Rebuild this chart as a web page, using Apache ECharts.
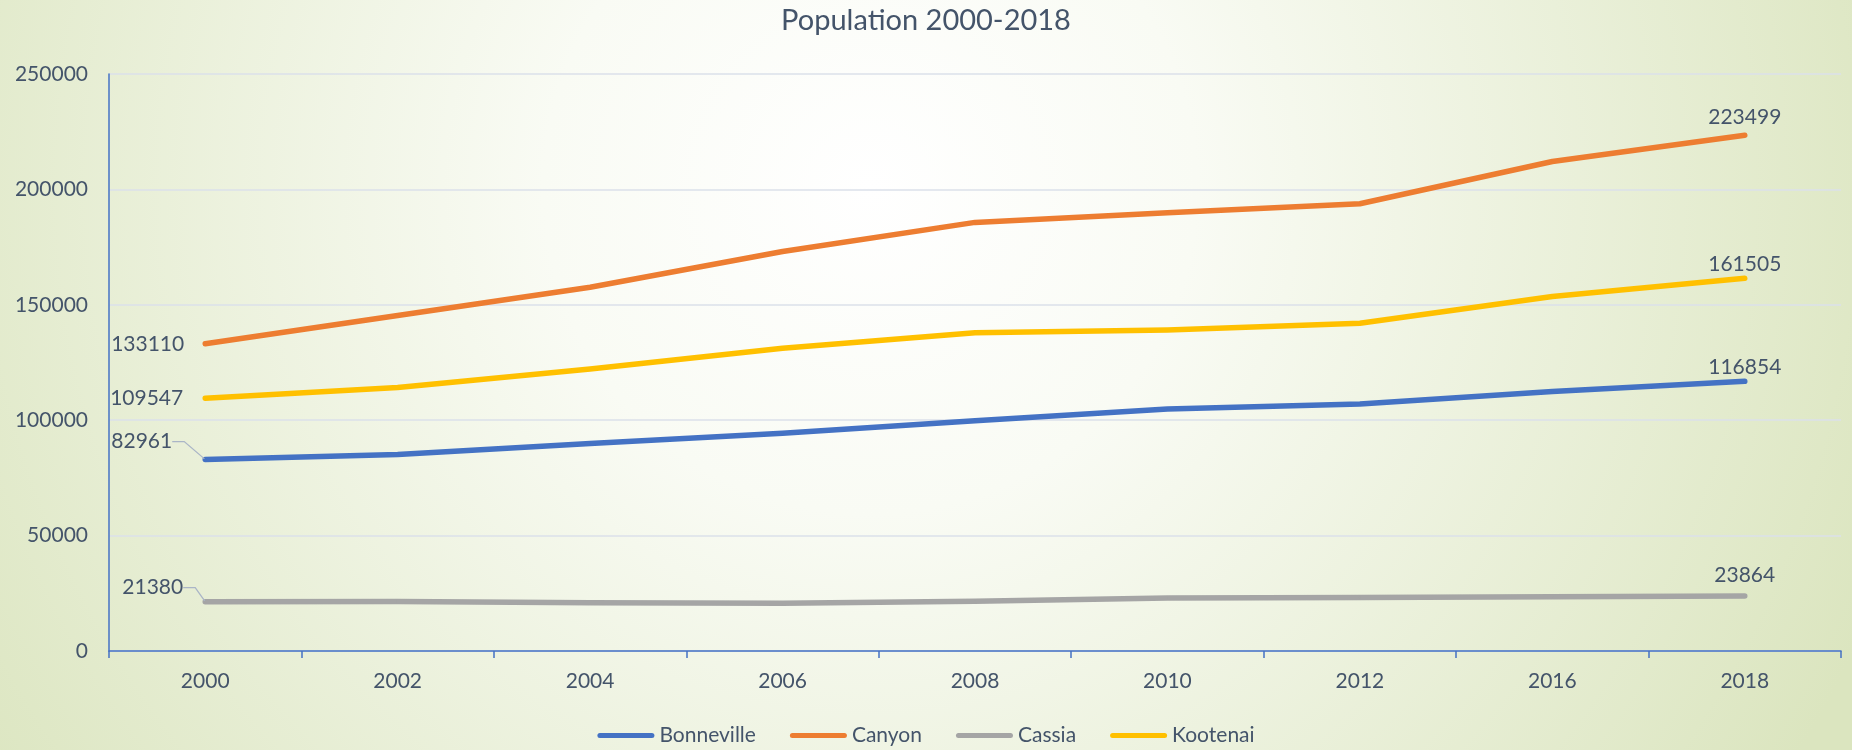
<!DOCTYPE html>
<html><head><meta charset="utf-8">
<script src="https://cdn.jsdelivr.net/npm/echarts@6/dist/echarts.min.js"></script>
<style>html,body{margin:0;padding:0;}#c{width:1852px;height:750px;}</style>
</head><body><div id="c"></div>
<script>
const chartTitle = 'Population 2000-2018';
const years = ['2000', '2002', '2004', '2006', '2008', '2010', '2012', '2016', '2018'];
const seriesNames = ['Bonneville', 'Canyon', 'Cassia', 'Kootenai'];
const bonneville = [82961, 85100, 89900, 94300, 99800, 104900, 107000, 112400, 116854];
const canyon = [133110, 145400, 157600, 173100, 185700, 189900, 193800, 212100, 223499];
const cassia = [21380, 21500, 20900, 20700, 21600, 22950, 23200, 23500, 23864];
const kootenai = [109547, 114200, 122200, 131200, 137900, 139100, 142000, 153600, 161505];
const yMin = 0, yMax = 250000, yStep = 50000;

const FONT = 'Lato';
const TXT = '#44546A';
const colors = { Bonneville: '#4472C4', Canyon: '#ED7D31', Cassia: '#A5A5A5', Kootenai: '#FFC000' };
const values = { Bonneville: bonneville, Canyon: canyon, Cassia: cassia, Kootenai: kootenai };

const labelBase = { show: true, color: TXT, fontFamily: FONT, fontSize: 21 };
const startLabel = {
  Canyon: { position: 'left', distance: 20, offset: [0, -29] },
  Kootenai: { position: 'left', distance: 21, offset: [0, -21] },
  Bonneville: { position: 'left', distance: 5, padding: [0, 9, 0, 0] },
  Cassia: { position: 'left', distance: 5, padding: [0, 10, 0, 0] }
};
const startMove = { Bonneville: [-9, -18], Cassia: [4, -14] };
const endLabel = {
  Canyon: { position: 'top', distance: 6.5, offset: [0, 0] },
  Kootenai: { position: 'top', distance: 2.5, offset: [0, 0] },
  Bonneville: { position: 'top', distance: 2.5, offset: [0, 0] },
  Cassia: { position: 'top', distance: 9.5, offset: [-20, 0] }
};

const series = seriesNames.map(name => {
  const vals = values[name];
  const last = vals.length - 1;
  const data = vals.map((v, i) => {
    if (i === 0) {
      const item = { value: v, label: Object.assign({}, labelBase, startLabel[name]) };
      if (startMove[name]) item.labelLine = { show: true, length2: 12, lineStyle: { color: '#aab5c7', width: 1.3 } };
      return item;
    }
    if (i === last) return { value: v, label: Object.assign({}, labelBase, endLabel[name]) };
    return v;
  });
  return {
    name, type: 'line', data,
    symbol: 'circle', symbolSize: 2, showSymbol: true,
    itemStyle: { color: colors[name] },
    lineStyle: { color: colors[name], width: 5.5, cap: 'round', join: 'round' },
    label: { show: false },
    labelLayout: function (p) {
      const mv = startMove[name];
      if (p.dataIndex === 0 && mv) {
        return {
          x: p.labelRect.x + p.labelRect.width + mv[0],
          y: p.labelRect.y + p.labelRect.height / 2 + mv[1],
          align: 'right', verticalAlign: 'middle'
        };
      }
      return {};
    },
    emphasis: { disabled: true },
    z: 3
  };
});

const chart = echarts.init(document.getElementById('c'), null, { renderer: 'canvas' });
chart.setOption({
  animation: false,
  backgroundColor: {
    type: 'radial', x: 0.47, y: 0.25, r: 1.45,
    colorStops: [
      { offset: 0, color: '#ffffff' },
      { offset: 0.3, color: '#f9fbf4' },
      { offset: 1, color: '#dbe5bf' }
    ]
  },
  color: seriesNames.map(n => colors[n]),
  title: {
    text: chartTitle, left: 'center', top: 1,
    textStyle: { color: TXT, fontFamily: FONT, fontSize: 29, fontWeight: 'normal' }
  },
  legend: {
    data: seriesNames, left: 'center', top: 720,
    itemWidth: 57, itemHeight: 5, itemGap: 34,
    icon: 'path://M2.5,0 H54.5 A2.5,2.5 0 0 1 54.5,5 H2.5 A2.5,2.5 0 0 1 2.5,0 Z',
    textStyle: { color: TXT, fontFamily: FONT, fontSize: 21 }
  },
  grid: { left: 109, right: 11, top: 74, bottom: 99, containLabel: false },
  xAxis: {
    type: 'category', data: years, boundaryGap: true,
    axisLine: { lineStyle: { color: '#4472C4', width: 1.5 } },
    axisTick: { show: true, length: 7, interval: 0, lineStyle: { color: '#4472C4', width: 1.5 } },
    axisLabel: { color: TXT, fontFamily: FONT, fontSize: 21, margin: 20, interval: 0 },
    splitLine: { show: false }
  },
  yAxis: {
    type: 'value', min: yMin, max: yMax, interval: yStep,
    axisLine: { show: true, lineStyle: { color: '#4472C4', width: 1.5 } },
    axisTick: { show: false },
    axisLabel: { color: TXT, fontFamily: FONT, fontSize: 21, margin: 21, formatter: v => String(v) },
    splitLine: { lineStyle: { color: '#dbe1ea', width: 1.5 } }
  },
  series
});
</script>
</body></html>
